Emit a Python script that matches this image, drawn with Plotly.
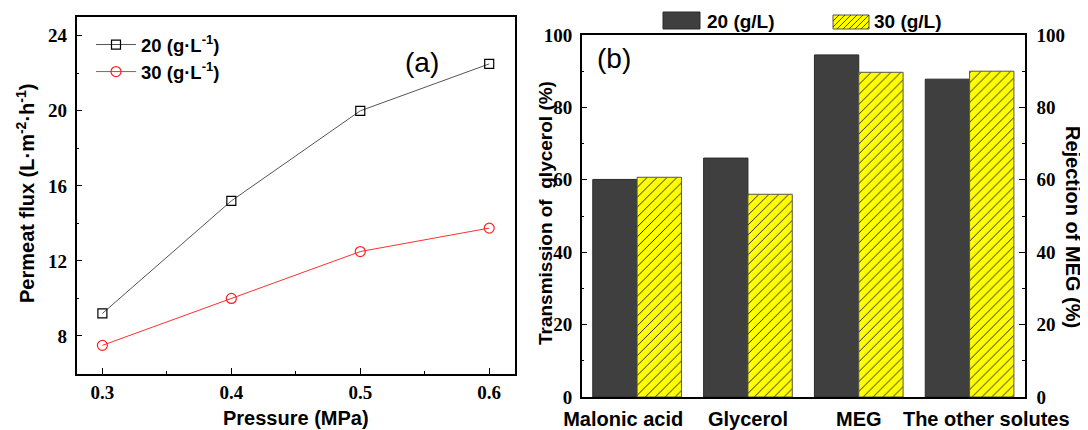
import plotly.graph_objects as go

# ---------------- data ----------------
pressure = [0.3, 0.4, 0.5, 0.6]
pressure_ticks = ["0.3", "0.4", "0.5", "0.6"]
flux_20 = [9.2, 15.2, 20.0, 22.5]
flux_30 = [7.5, 10.0, 12.5, 13.75]
flux_names = ["20 (g·L<sup>-1</sup>)", "30 (g·L<sup>-1</sup>)"]

solutes = ["Malonic acid", "Glycerol", "MEG", "The other solutes"]
solute_ticks = ["Malonic acid" + "\u00a0" * 5, "Glycerol", "MEG", "\u00a0" * 6 + "The other solutes"]
perf_20 = [60.1, 66.0, 94.5, 87.8]
perf_30 = [60.7, 56.0, 89.7, 90.0]
bar_names = ["20 (g/L)", "30 (g/L)"]

# ---------------- geometry helpers ----------------
# the page body adds an 8px offset, so the figure is made 8px smaller and
# all positions below are given in page (window) pixels.
OFF = 8
FW, FH = 1088 - OFF, 430 - OFF
L, R, T, B = 76 - OFF, 63, 17 - OFF, 33
W = FW - L - R
H = FH - T - B


def fx(px):
    return (px - OFF - L) / W


def fy(py):
    return (FH - B - (py - OFF)) / H


SANS = "Liberation Sans"
SERIF = "Liberation Serif"
tickfont = dict(family=SERIF, size=19, color="black", weight="bold")
titlefont = dict(family=SANS, size=20, color="black", weight="bold")

fig = go.Figure()

# ---------------- panel (a) ----------------
fig.add_trace(go.Scatter(
    x=pressure, y=flux_20, name=flux_names[0], mode="lines+markers",
    line=dict(color="#555555", width=1),
    marker=dict(symbol="square-open", size=9, color="black", line=dict(width=1.2)),
    xaxis="x", yaxis="y"))
fig.add_trace(go.Scatter(
    x=pressure, y=flux_30, name=flux_names[1], mode="lines+markers",
    line=dict(color="#ff3030", width=1),
    marker=dict(symbol="circle-open", size=10, color="#ff2020", line=dict(width=1.2)),
    xaxis="x", yaxis="y"))

# ---------------- panel (b) ----------------
fig.add_trace(go.Bar(
    x=solutes, y=perf_20, name=bar_names[0], showlegend=False,
    marker=dict(color="#3f3f3f", line=dict(color="#2a2a2a", width=1)),
    xaxis="x2", yaxis="y2"))
fig.add_trace(go.Bar(
    x=solutes, y=perf_30, name=bar_names[1], showlegend=False,
    marker=dict(color="#ffff00", line=dict(color="#555555", width=1),
                pattern=dict(shape="/", fgcolor="#000000", bgcolor="#ffff00",
                             size=7, solidity=0.12)),
    xaxis="x2", yaxis="y2"))
# carrier for the right-hand axis
fig.add_trace(go.Scatter(
    x=solutes, y=perf_20, mode="markers", marker=dict(opacity=0),
    showlegend=False, hoverinfo="skip", xaxis="x2", yaxis="y3"))

axis_common = dict(showline=True, linecolor="black", linewidth=1.5, mirror=True,
                   showgrid=False, zeroline=False, ticks="inside", ticklen=6,
                   tickwidth=1.3, tickcolor="black", tickfont=tickfont,
                   automargin=False)
minor_common = dict(ticks="inside", ticklen=3, tickwidth=1.2, tickcolor="black")

fig.update_layout(
    template="none",
    width=FW, height=FH,
    margin=dict(l=L, r=R, t=T, b=B, autoexpand=False),
    paper_bgcolor="white", plot_bgcolor="white",
    barmode="group", bargap=0.2, bargroupgap=0,
    xaxis=dict(domain=[fx(76.6), fx(515)], anchor="y", range=[0.28, 0.62],
               tickvals=pressure, ticktext=pressure_ticks, ticklabelstandoff=1,
               minor=dict(tick0=0.25, dtick=0.1, **minor_common),
               **axis_common),
    yaxis=dict(domain=[fy(373.5), fy(17)], anchor="x", range=[6, 25],
               tick0=0, dtick=4, ticklabelstandoff=4,
               minor=dict(tick0=2, dtick=4, **minor_common),
               **axis_common),
    xaxis2=dict(domain=[fx(581.7), fx(1025)], anchor="y2", showline=True, linecolor="black",
                linewidth=1.5, mirror=True, showgrid=False, zeroline=False,
                ticks="", ticklabelstandoff=3, automargin=False, tickangle=0,
                tickvals=solutes, ticktext=solute_ticks,
                tickfont=dict(family=SANS, size=20, color="black", weight="bold")),
    yaxis2=dict(domain=[fy(397), fy(35)], anchor="x2", range=[0, 100], dtick=20,
                ticklabelstandoff=4,
                minor=dict(tick0=10, dtick=20, **minor_common),
                **axis_common),
    yaxis3=dict(overlaying="y2", side="right", anchor="x2", range=[0, 100], dtick=20,
                showline=True, linecolor="black", linewidth=1.5, showgrid=False,
                zeroline=False, ticks="inside", ticklen=6, tickwidth=1.3,
                tickcolor="black", tickfont=tickfont, ticklabelstandoff=6,
                automargin=False,
                minor=dict(tick0=10, dtick=20, **minor_common)),
    legend=dict(x=fx(91), y=fy(26), xanchor="left", yanchor="top",
                bgcolor="rgba(0,0,0,0)", borderwidth=0, itemwidth=40,
                font=dict(family=SANS, size=18.5, color="black", weight="bold")),
    showlegend=True,
)

annotations = [
    # panel labels
    dict(text="(a)", x=fx(422), y=fy(62), font=dict(family=SANS, size=28, color="black")),
    dict(text="(b)", x=fx(614), y=fy(58), font=dict(family=SANS, size=28, color="black")),
    # axis titles
    dict(text="Pressure (MPa)", x=fx(296), y=fy(418), font=titlefont),
    dict(text="Permeat flux (L·m<sup>-2</sup>·h<sup>-1</sup>)", x=fx(25), y=fy(194),
         textangle=-90, font=titlefont),
    dict(text="Transmission of  glycerol (%)", x=fx(545), y=fy(213),
         textangle=-90, font=dict(family=SANS, size=19, color="black", weight="bold")),
    dict(text="Rejection of MEG (%)", x=fx(1073), y=fy(227),
         textangle=90, font=titlefont),
    # bar legend texts
    dict(text=bar_names[0], x=fx(705), y=fy(21), xanchor="left",
         font=dict(family=SANS, size=19, color="black", weight="bold")),
    dict(text=bar_names[1], x=fx(872), y=fy(21), xanchor="left",
         font=dict(family=SANS, size=19, color="black", weight="bold")),
]
for a in annotations:
    a.setdefault("xanchor", "center")
    a.update(xref="paper", yref="paper", yanchor="middle", showarrow=False)
fig.update_layout(annotations=annotations)

# ---------------- bar legend swatches ----------------
shapes = [
    dict(type="rect", xref="paper", yref="paper", x0=fx(663), x1=fx(700),
         y0=fy(29), y1=fy(12), fillcolor="#3f3f3f", line=dict(color="#2a2a2a", width=1)),
    dict(type="rect", xref="paper", yref="paper", x0=fx(833), x1=fx(869),
         y0=fy(29), y1=fy(15), fillcolor="#ffff00", line=dict(color="#555555", width=1)),
]
hx0, hx1, hy0, hy1 = 833, 869, 15, 29
h = hy1 - hy0
u = hx0 - h
while u < hx1:
    t0 = max(0.0, (hx0 - u) / h)
    t1 = min(1.0, (hx1 - u) / h)
    if t1 > t0:
        shapes.append(dict(type="line", xref="paper", yref="paper",
                           x0=fx(u + t0 * h), y0=fy(hy1 - t0 * h),
                           x1=fx(u + t1 * h), y1=fy(hy1 - t1 * h),
                           line=dict(color="#222222", width=0.8)))
    u += 6
fig.update_layout(shapes=shapes)

fig.write_html("out.html")
